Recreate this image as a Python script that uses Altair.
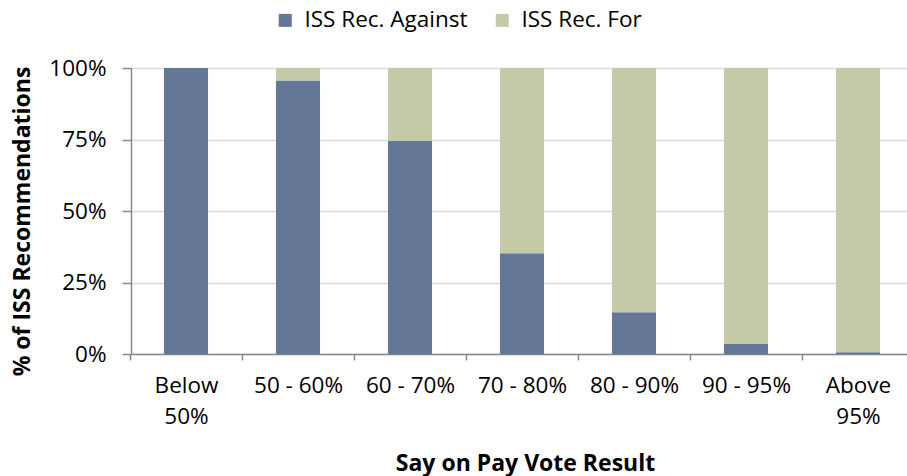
import altair as alt
import pandas as pd

categories = ["Below 50%", "50 - 60%", "60 - 70%", "70 - 80%", "80 - 90%", "90 - 95%", "Above 95%"]
against_values = [100.0, 95.6, 74.6, 35.2, 14.6, 3.5, 0.6]
for_values = [0.0, 4.4, 25.4, 64.8, 85.4, 96.5, 99.4]
series = ["ISS Rec. Against", "ISS Rec. For"]
colors = ["#647796", "#c4caa8"]
y_ticks = [0, 25, 50, 75, 100]

rows = []
for c, a, f in zip(categories, against_values, for_values):
    rows.append({"cat": c, "series": series[0], "value": a, "ord": 0})
    rows.append({"cat": c, "series": series[1], "value": f, "ord": 1})
df = pd.DataFrame(rows)

FONT = "Open Sans"
FS = 22.5
TFS = 23

chart = alt.Chart(df).mark_bar().encode(
    x=alt.X("cat:N", sort=categories,
            scale=alt.Scale(paddingInner=0.607, paddingOuter=0.268, align=0.55),
            axis=alt.Axis(title="Say on Pay Vote Result", labelAngle=0,
                          bandPosition=0, tickOffset=-34, labelOffset=34,
                          labelExpr="indexof(datum.label, '-') < 0 ? split(datum.label, ' ') : datum.label",
                          labelLineHeight=31, labelPadding=14, tickSize=6,
                          titleX=394, titleY=109, titleBaseline="middle", titleAlign="center")),
    y=alt.Y("value:Q", stack="zero",
            scale=alt.Scale(domain=[0, 100], nice=False),
            axis=alt.Axis(title="% of ISS Recommendations", values=y_ticks,
                          labelExpr="datum.value + '%'", tickSize=9, labelPadding=16,
                          titleX=-109, titleY=153, titleBaseline="middle", titleAlign="center",
                          titleAngle=270)),
    color=alt.Color("series:N", scale=alt.Scale(domain=series, range=colors),
                    legend=alt.Legend(title=None, orient="none", legendX=143, legendY=-59,
                                      direction="horizontal", symbolType="square",
                                      symbolSize=169, symbolStrokeWidth=0, labelOffset=8,
                                      columnPadding=23, labelFontSize=FS, labelFont=FONT,
                                      labelLimit=400, labelColor="#000000")),
    order=alt.Order("ord:Q"),
).properties(
    width=776, height=286,
    autosize=alt.AutoSizeParams(type="none"),
    padding={"left": 131, "top": 68, "right": 0, "bottom": 122},
).configure_view(stroke=None).configure_axis(
    labelFont=FONT, labelFontSize=FS, labelColor="#000000",
    titleFont=FONT, titleFontSize=TFS, titleFontWeight="bold", titleColor="#000000",
    domainColor="#868686", domainWidth=1.5, tickColor="#868686", tickWidth=1.5,
    gridColor="#d9d9d9", gridWidth=1.5,
).configure_axisX(grid=False).configure_axisY(grid=True)

chart.save("out.html", embed_options={"renderer": "svg", "actions": False})
